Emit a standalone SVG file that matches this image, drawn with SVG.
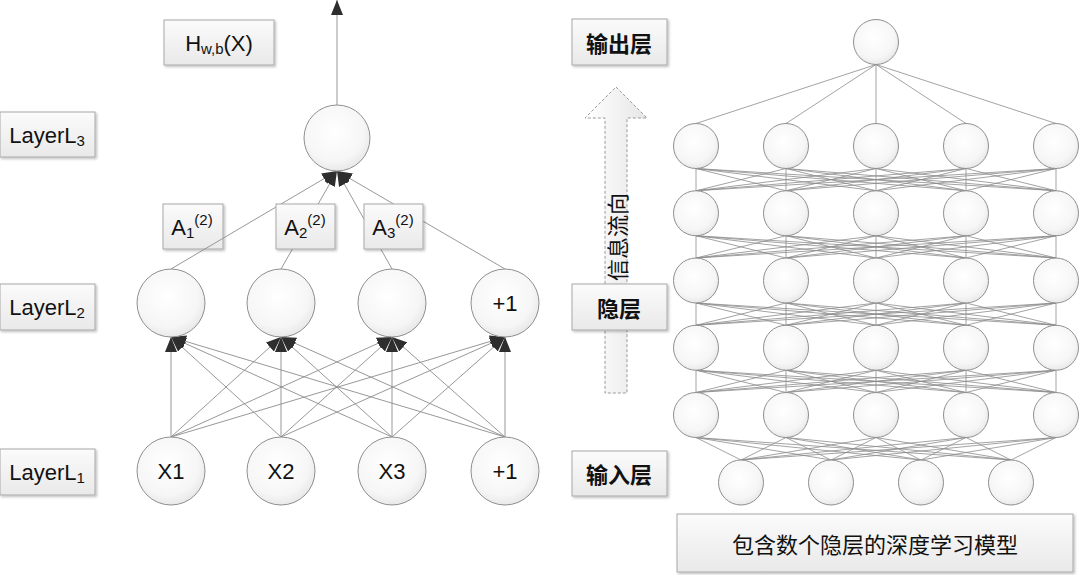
<svg xmlns="http://www.w3.org/2000/svg" xmlns:xlink="http://www.w3.org/1999/xlink" width="1080" height="575" viewBox="0 0 1080 575">
<style>
.box{fill:url(#boxg);stroke:#a8a8a8;stroke-width:1;filter:url(#sh)}
.nd{fill:url(#cg);stroke:#8f8f8f;stroke-width:1}
.ln{stroke:#8c8c8c;stroke-width:0.8;fill:none}
.ar{stroke:#8c8c8c;stroke-width:0.9;fill:none;marker-end:url(#ah)}
.t{font-family:"Liberation Sans","DejaVu Sans",sans-serif;font-size:22px;fill:#111;text-anchor:middle;dominant-baseline:central}
.cn{font-family:"Noto Sans CJK SC",sans-serif;font-size:22px;fill:#111;text-anchor:middle;dominant-baseline:central}
</style>
<defs>
<radialGradient id="cg" cx="0.45" cy="0.4" r="0.65"><stop offset="0" stop-color="#ffffff"/><stop offset="0.7" stop-color="#f6f6f6"/><stop offset="1" stop-color="#e4e4e4"/></radialGradient>
<linearGradient id="boxg" x1="0" y1="0" x2="0" y2="1"><stop offset="0" stop-color="#fbfbfb"/><stop offset="1" stop-color="#e9e9e9"/></linearGradient>
<linearGradient id="arg" x1="0" y1="0" x2="1" y2="0"><stop offset="0" stop-color="#ffffff"/><stop offset="1" stop-color="#e6e6e6"/></linearGradient>
<filter id="sh" x="-10%" y="-10%" width="125%" height="135%"><feDropShadow dx="1.5" dy="1.5" stdDeviation="1" flood-color="#000" flood-opacity="0.25"/></filter>
<marker id="ah" markerUnits="userSpaceOnUse" markerWidth="16" markerHeight="12" refX="15" refY="6" orient="auto"><path d="M0,0L15,6L0,12z" fill="#2e2e2e"/></marker>
<path id="mesh" d="M696,0L696,22.25M696,0L786,22.25M696,0L876,22.25M696,0L966,22.25M696,0L1056,22.25M786,0L696,22.25M786,0L786,22.25M786,0L876,22.25M786,0L966,22.25M786,0L1056,22.25M876,0L696,22.25M876,0L786,22.25M876,0L876,22.25M876,0L966,22.25M876,0L1056,22.25M966,0L696,22.25M966,0L786,22.25M966,0L876,22.25M966,0L966,22.25M966,0L1056,22.25M1056,0L696,22.25M1056,0L786,22.25M1056,0L876,22.25M1056,0L966,22.25M1056,0L1056,22.25"/>
</defs>
<rect width="1080" height="575" fill="#ffffff"/>

<!-- left labels -->
<g id="lblH"><rect class="box" x="164" y="20" width="110" height="45"/><text class="t" x="219" y="43">H<tspan font-size="15" dy="5">w,b</tspan><tspan dy="-5">(X)</tspan></text></g>
<g id="lblL3"><rect class="box" x="0" y="112" width="95" height="45"/><text class="t" x="47" y="135">LayerL<tspan font-size="15" dy="5">3</tspan></text></g>
<g id="lblL2"><rect class="box" x="0" y="284" width="95" height="46"/><text class="t" x="47" y="307">LayerL<tspan font-size="15" dy="5">2</tspan></text></g>
<g id="lblL1"><rect class="box" x="0" y="449" width="95" height="46"/><text class="t" x="47" y="472">LayerL<tspan font-size="15" dy="5">1</tspan></text></g>
<g id="a1"><rect class="box" x="163" y="204" width="60" height="45"/><text class="t" x="192" y="227">A<tspan font-size="15" dy="5">1</tspan><tspan font-size="15" dy="-13">(2)</tspan></text></g>

<!-- connectors -->
<g id="connectors">
<line class="ar" x1="337" y1="105" x2="337" y2="0"/>
<line class="ar" x1="171" y1="269" x2="337" y2="171"/>
<line class="ar" x1="281" y1="269" x2="337" y2="171"/>
<line class="ar" x1="392" y1="269" x2="337" y2="171"/>
<line class="ar" x1="505" y1="269" x2="337" y2="171"/>
<line class="ar" x1="171" y1="437" x2="171" y2="337"/>
<line class="ar" x1="281" y1="437" x2="171" y2="337"/>
<line class="ar" x1="392" y1="437" x2="171" y2="337"/>
<line class="ar" x1="505" y1="437" x2="171" y2="337"/>
<line class="ar" x1="171" y1="437" x2="281" y2="337"/>
<line class="ar" x1="281" y1="437" x2="281" y2="337"/>
<line class="ar" x1="392" y1="437" x2="281" y2="337"/>
<line class="ar" x1="505" y1="437" x2="281" y2="337"/>
<line class="ar" x1="171" y1="437" x2="392" y2="337"/>
<line class="ar" x1="281" y1="437" x2="392" y2="337"/>
<line class="ar" x1="392" y1="437" x2="392" y2="337"/>
<line class="ar" x1="505" y1="437" x2="392" y2="337"/>
<line class="ar" x1="171" y1="437" x2="505" y2="337"/>
<line class="ar" x1="281" y1="437" x2="505" y2="337"/>
<line class="ar" x1="392" y1="437" x2="505" y2="337"/>
<line class="ar" x1="505" y1="437" x2="505" y2="337"/>
<!-- right network -->
<path class="ln" d="M876,64.5L696,123.5M876,64.5L786,123.5M876,64.5L876,123.5M876,64.5L966,123.5M876,64.5L1056,123.5"/>
<use class="ln" href="#mesh" y="168.5"/>
<use class="ln" href="#mesh" y="235.75"/>
<use class="ln" href="#mesh" y="303"/>
<use class="ln" href="#mesh" y="370.25"/>
<path class="ln" d="M696,437.5L741,460M696,437.5L831,460M696,437.5L921,460M696,437.5L1011,460M786,437.5L741,460M786,437.5L831,460M786,437.5L921,460M786,437.5L1011,460M876,437.5L741,460M876,437.5L831,460M876,437.5L921,460M876,437.5L1011,460M966,437.5L741,460M966,437.5L831,460M966,437.5L921,460M966,437.5L1011,460M1056,437.5L741,460M1056,437.5L831,460M1056,437.5L921,460M1056,437.5L1011,460"/>
</g>

<g id="a2"><rect class="box" x="276" y="204" width="59" height="45"/><text class="t" x="305" y="227">A<tspan font-size="15" dy="5">2</tspan><tspan font-size="15" dy="-13">(2)</tspan></text></g>
<g id="a3"><rect class="box" x="364" y="204" width="59" height="45"/><text class="t" x="393" y="227">A<tspan font-size="15" dy="5">3</tspan><tspan font-size="15" dy="-13">(2)</tspan></text></g>

<!-- left nodes -->
<g id="l3"><circle class="nd" cx="337" cy="138" r="33"/></g>
<g id="h1"><circle class="nd" cx="171" cy="303" r="34"/></g>
<g id="h2"><circle class="nd" cx="281" cy="303" r="34"/></g>
<g id="h3"><circle class="nd" cx="392" cy="303" r="34"/></g>
<g id="hb"><circle class="nd" cx="505" cy="303" r="34"/><text class="t" x="505" y="303">+1</text></g>
<g id="x1"><circle class="nd" cx="171" cy="471" r="34"/><text class="t" x="171" y="471">X1</text></g>
<g id="x2"><circle class="nd" cx="281" cy="471" r="34"/><text class="t" x="281" y="471">X2</text></g>
<g id="x3"><circle class="nd" cx="392" cy="471" r="34"/><text class="t" x="392" y="471">X3</text></g>
<g id="xb"><circle class="nd" cx="505" cy="471" r="34"/><text class="t" x="505" y="471">+1</text></g>

<!-- info flow arrow -->
<g id="flow"><polygon points="616,87 647,118 627,118 627,393 605,393 605,118 585,118" fill="url(#arg)" stroke="#9a9a9a" stroke-width="1" stroke-dasharray="3,2"/><text class="cn" x="616" y="237" transform="rotate(-90 616 237)">信息流向</text></g>

<!-- right labels -->
<g id="out"><rect class="box" x="572" y="19" width="95" height="46"/><text class="cn" x="619" y="42" font-size="23" font-weight="bold">输出层</text></g>
<g id="hid"><rect class="box" x="572" y="284" width="95" height="46"/><text class="cn" x="619" y="307" font-size="23" font-weight="bold">隐层</text></g>
<g id="inp"><rect class="box" x="572" y="451" width="95" height="45"/><text class="cn" x="619" y="473" font-size="23" font-weight="bold">输入层</text></g>
<g id="title"><rect class="box" x="677" y="514" width="396" height="58"/><text class="cn" x="875" y="543" font-size="24">包含数个隐层的深度学习模型</text></g>

<!-- right nodes -->
<g id="o"><circle class="nd" cx="876" cy="42" r="22.5"/></g>
<g id="r1">
<circle class="nd" cx="696" cy="146" r="22.5"/><circle class="nd" cx="786" cy="146" r="22.5"/><circle class="nd" cx="876" cy="146" r="22.5"/><circle class="nd" cx="966" cy="146" r="22.5"/><circle class="nd" cx="1056" cy="146" r="22.5"/>
</g>
<g id="r2">
<circle class="nd" cx="696" cy="213.25" r="22.5"/><circle class="nd" cx="786" cy="213.25" r="22.5"/><circle class="nd" cx="876" cy="213.25" r="22.5"/><circle class="nd" cx="966" cy="213.25" r="22.5"/><circle class="nd" cx="1056" cy="213.25" r="22.5"/>
</g>
<g id="r3">
<circle class="nd" cx="696" cy="280.5" r="22.5"/><circle class="nd" cx="786" cy="280.5" r="22.5"/><circle class="nd" cx="876" cy="280.5" r="22.5"/><circle class="nd" cx="966" cy="280.5" r="22.5"/><circle class="nd" cx="1056" cy="280.5" r="22.5"/>
</g>
<g id="r4">
<circle class="nd" cx="696" cy="347.75" r="22.5"/><circle class="nd" cx="786" cy="347.75" r="22.5"/><circle class="nd" cx="876" cy="347.75" r="22.5"/><circle class="nd" cx="966" cy="347.75" r="22.5"/><circle class="nd" cx="1056" cy="347.75" r="22.5"/>
</g>
<g id="r5">
<circle class="nd" cx="696" cy="415" r="22.5"/><circle class="nd" cx="786" cy="415" r="22.5"/><circle class="nd" cx="876" cy="415" r="22.5"/><circle class="nd" cx="966" cy="415" r="22.5"/><circle class="nd" cx="1056" cy="415" r="22.5"/>
</g>
<g id="ri">
<circle class="nd" cx="741" cy="482.5" r="22.5"/><circle class="nd" cx="831" cy="482.5" r="22.5"/><circle class="nd" cx="921" cy="482.5" r="22.5"/><circle class="nd" cx="1011" cy="482.5" r="22.5"/>
</g>
</svg>
